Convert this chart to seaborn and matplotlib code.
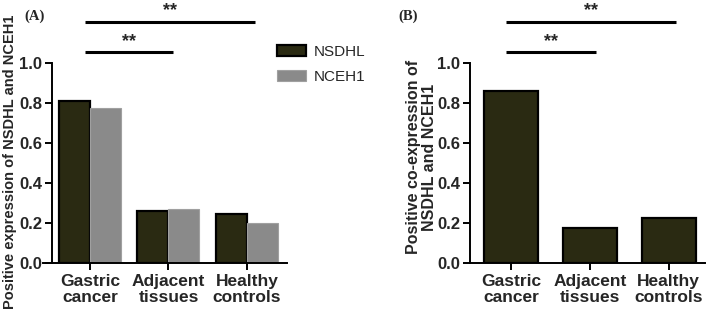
import numpy as np
import pandas as pd
import matplotlib
matplotlib.use("Agg")
import matplotlib.pyplot as plt
import matplotlib.patches as mpatches
import seaborn as sns

# data
groups = ["Gastric\ncancer", "Adjacent\ntissues", "Healthy\ncontrols"]
nsdhl = [0.81, 0.26, 0.245]
nceh1 = [0.775, 0.268, 0.20]
coexpr = [0.862, 0.175, 0.225]
yticks = [0.0, 0.2, 0.4, 0.6, 0.8, 1.0]

dark = "#2a2a12"
grey = "#8a8a8a"

sns.set_style("ticks")
plt.rcParams["font.family"] = ["Liberation Sans", "DejaVu Sans"]

df_a = pd.DataFrame({
    "group": groups * 2,
    "marker": ["NSDHL"] * 3 + ["NCEH1"] * 3,
    "value": nsdhl + nceh1,
})
df_b = pd.DataFrame({"group": groups, "value": coexpr})

fig = plt.figure(figsize=(7.09, 3.25), dpi=100)
W, H = 709, 325

def px_axes(left, right, top, bottom):
    return fig.add_axes([left / W, 1 - bottom / H, (right - left) / W, (bottom - top) / H])

ax_a = px_axes(52, 287, 63, 263)
ax_b = px_axes(470, 705, 63, 263)

# Panel A - grouped bars
sns.barplot(data=df_a, x="group", y="value", hue="marker", palette=[dark, grey],
            width=0.79, ax=ax_a, legend=False, saturation=1)
for bar in ax_a.containers[0]:
    bar.set_edgecolor("black")
    bar.set_linewidth(1.6)
for bar in ax_a.containers[1]:
    bar.set_edgecolor("#a0a0a0")
    bar.set_linewidth(0.8)
ax_a.set_xlim(-0.484, 2.51)

# Panel B - single bars
sns.barplot(data=df_b, x="group", y="value", color=dark, width=0.68, ax=ax_b,
            saturation=1, edgecolor="black", linewidth=1.6)
ax_b.set_xlim(-0.52, 2.46)

for ax in (ax_a, ax_b):
    ax.set_ylim(0, 1.0)
    ax.set_yticks(yticks)
    ax.set_yticklabels([f"{t:.1f}" for t in yticks], fontweight="bold", fontsize=12)
    ax.set_xticks(range(len(groups)))
    ax.set_xticklabels(groups, fontweight="bold", fontsize=12.5, linespacing=1.05)
    ax.set_xlabel("")
    ax.tick_params(axis="both", width=1.4, length=5, color="black")
    ax.tick_params(axis="y", pad=2)
    ax.tick_params(axis="x", pad=3)
    for s in ["top", "right"]:
        ax.spines[s].set_visible(False)
    for s in ["left", "bottom"]:
        ax.spines[s].set_linewidth(1.4)
        ax.spines[s].set_color("black")
    ax.set_facecolor("none")

ax_a.spines["bottom"].set_bounds(-0.6, 2.51)

ax_a.set_ylabel("Positive expression of NSDHL and NCEH1", fontweight="bold", fontsize=10.5)
ax_a.yaxis.set_label_coords(-0.148, 0.505)
ax_b.set_ylabel("Positive co-expression of\nNSDHL and NCEH1", fontweight="bold",
                fontsize=11.5, linespacing=1.1)
ax_b.yaxis.set_label_coords(-0.14, 0.53)

# significance bars
def sig(ax, x0, x1, y):
    ax.plot([x0, x1], [y, y], color="black", lw=2.2, clip_on=False, solid_capstyle="butt")
    ax.text((x0 + x1) / 2, y + 0.012, "**", ha="center", va="bottom", fontsize=13,
            fontweight="bold", clip_on=False)

sig(ax_a, -0.064, 2.10, 1.207)
sig(ax_a, -0.064, 1.057, 1.055)
sig(ax_b, -0.063, 2.09, 1.207)
sig(ax_b, -0.063, 1.08, 1.055)

# panel letters
fig.text(24 / W, 1 - 20 / H, "(A)", fontsize=10.5, fontweight="bold", family="Liberation Serif")
fig.text(398 / W, 1 - 20 / H, "(B)", fontsize=10.5, fontweight="bold", family="Liberation Serif")

# legend
handles = [mpatches.Patch(facecolor=dark, edgecolor="black", linewidth=1.6, label="NSDHL"),
           mpatches.Patch(facecolor=grey, edgecolor="#a0a0a0", linewidth=0.8, label="NCEH1")]
fig.legend(handles=handles, loc="upper left", bbox_to_anchor=(271 / W, 1 - 39 / H),
           frameon=False, fontsize=11, handlelength=1.9, handleheight=0.75,
           handletextpad=0.5, labelspacing=0.7, borderaxespad=0)

fig.savefig("out.png", dpi=100)
